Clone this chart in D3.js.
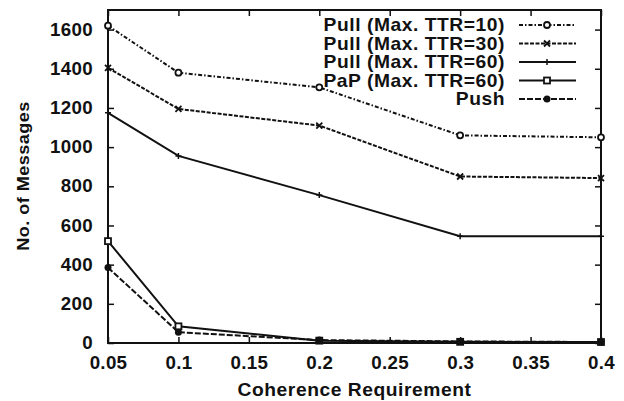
<!DOCTYPE html>
<html>
<head>
<meta charset="utf-8">
<script src="https://cdn.jsdelivr.net/npm/d3@7"></script>
<style>
  body { margin: 0; background: #fff; }
  svg { display: block; }
  text { font-family: "Liberation Sans", Arial, sans-serif; font-weight: bold; fill: #111; }
</style>
</head>
<body>
<svg id="chart" width="624" height="401"></svg>
<script>
// data
const coherence = [0.05, 0.1, 0.2, 0.3, 0.4];
const pull10 = [1620, 1380, 1305, 1060, 1050];
const pull30 = [1405, 1195, 1110, 850, 842];
const pull60 = [1175, 955, 755, 545, 545];
const pap60 = [520, 85, 12, 6, 5];
const push = [385, 55, 15, 8, 5];
const seriesNames = ["Pull (Max. TTR=10)", "Pull (Max. TTR=30)", "Pull (Max. TTR=60)", "PaP (Max. TTR=60)", "Push"];
const xTicks = [0.05, 0.1, 0.15, 0.2, 0.25, 0.3, 0.35, 0.4];
const yTicks = [0, 200, 400, 600, 800, 1000, 1200, 1400, 1600];

const svg = d3.select('#chart');
const plotLeft = 108, plotRight = 601, plotTop = 10, plotBottom = 343;

const x = d3.scaleLinear().domain([0.05, 0.4]).range([plotLeft, plotRight]);
const y = d3.scaleLinear().domain([0, 1700]).range([plotBottom, plotTop]);

const series = [
    { name: seriesNames[0], values: pull10, dash: "4,2,1.5,2", marker: "circle" },
    { name: seriesNames[1], values: pull30, dash: "4,1.5", marker: "cross" },
    { name: seriesNames[2], values: pull60, dash: null, marker: "plus" },
    { name: seriesNames[3], values: pap60, dash: null, marker: "square" },
    { name: seriesNames[4], values: push, dash: "6,2", marker: "dot" }
];

// the scanned lettering is a bit wider than Arial: stretch glyphs horizontally
function widen(sel, s) {
    sel.each(function () {
        const t = d3.select(this);
        const tx = +t.attr('x') || 0;
        t.attr('x', tx / s).attr('transform', 'scale(' + s + ',1)');
    });
}

// axes (ticks point inward, mirrored on top/right)
const xAxis = svg.append('g').attr('transform', 'translate(0,' + plotBottom + ')')
    .call(d3.axisBottom(x).tickValues(xTicks).tickSizeInner(-6).tickSizeOuter(0)
        .tickPadding(16).tickFormat(d3.format('')));
svg.append('g').attr('transform', 'translate(0,' + plotTop + ')')
    .call(d3.axisTop(x).tickValues(xTicks).tickSizeInner(-6).tickSizeOuter(0).tickFormat(''));
const yAxis = svg.append('g').attr('transform', 'translate(' + plotLeft + ',0)')
    .call(d3.axisLeft(y).tickValues(yTicks).tickSizeInner(-6).tickSizeOuter(0)
        .tickPadding(15).tickFormat(d3.format('d')));
svg.append('g').attr('transform', 'translate(' + plotRight + ',0)')
    .call(d3.axisRight(y).tickValues(yTicks).tickSizeInner(-6).tickSizeOuter(0).tickFormat(''));

svg.selectAll('.domain').remove();
svg.selectAll('.tick line').attr('stroke', '#111').attr('stroke-width', 1.5);
svg.selectAll('.tick text')
    .attr('font-family', null).attr('font-size', null).attr('fill', '#111')
    .style('font-size', '17.5px').style('letter-spacing', '0.3px');
xAxis.selectAll('.tick text').attr('dy', null).attr('y', 26);
widen(xAxis.selectAll('.tick text'), 1.07);
widen(yAxis.selectAll('.tick text'), 1.07);

svg.append('rect')
    .attr('x', plotLeft).attr('y', plotTop)
    .attr('width', plotRight - plotLeft).attr('height', plotBottom - plotTop)
    .attr('fill', 'none').attr('stroke', '#111').attr('stroke-width', 2);

// lines
const line = d3.line()
    .x((d, i) => x(coherence[i]))
    .y(d => y(d));

function drawMarker(g, kind, cx, cy) {
    if (kind === 'circle') {
        g.append('circle').attr('cx', cx).attr('cy', cy).attr('r', 3)
            .attr('fill', '#fff').attr('stroke', '#111').attr('stroke-width', 1.8);
    } else if (kind === 'dot') {
        g.append('circle').attr('cx', cx).attr('cy', cy).attr('r', 3.5).attr('fill', '#111');
    } else if (kind === 'square') {
        g.append('rect').attr('x', cx - 3).attr('y', cy - 3).attr('width', 6).attr('height', 6)
            .attr('fill', '#fff').attr('stroke', '#111').attr('stroke-width', 1.8);
    } else if (kind === 'cross') {
        g.append('path').attr('d', 'M' + (cx - 3) + ',' + (cy - 3) + 'L' + (cx + 3) + ',' + (cy + 3)
            + 'M' + (cx - 3) + ',' + (cy + 3) + 'L' + (cx + 3) + ',' + (cy - 3))
            .attr('stroke', '#111').attr('stroke-width', 1.8);
    } else if (kind === 'plus') {
        g.append('path').attr('d', 'M' + (cx - 3) + ',' + cy + 'L' + (cx + 3) + ',' + cy
            + 'M' + cx + ',' + (cy - 3) + 'L' + cx + ',' + (cy + 3))
            .attr('stroke', '#111').attr('stroke-width', 1.5);
    }
}

const plot = svg.append('g');
series.forEach(function (s) {
    plot.append('path')
        .datum(s.values)
        .attr('d', line)
        .attr('fill', 'none')
        .attr('stroke', '#111')
        .attr('stroke-width', 2)
        .attr('stroke-dasharray', s.dash);
    s.values.forEach(function (v, i) {
        drawMarker(plot, s.marker, x(coherence[i]), y(v));
    });
});

// legend
const legend = svg.append('g');
series.forEach(function (s, i) {
    const ly = 25 + i * 18.5;
    legend.append('text')
        .attr('x', 505).attr('y', ly).attr('dy', '0.36em')
        .attr('text-anchor', 'end')
        .style('font-size', '17.5px')
        .style('letter-spacing', '0.5px')
        .text(s.name)
        .call(widen, 1.1);
    legend.append('line')
        .attr('x1', 519).attr('x2', 576).attr('y1', ly).attr('y2', ly)
        .attr('stroke', '#111').attr('stroke-width', 2)
        .attr('stroke-dasharray', s.dash);
    drawMarker(legend, s.marker, 547, ly);
});

// axis titles
svg.append('text')
    .attr('x', (plotLeft + plotRight) / 2).attr('y', 396)
    .attr('text-anchor', 'middle')
    .style('font-size', '17.5px')
    .style('letter-spacing', '0.5px')
    .text('Coherence Requirement')
    .call(widen, 1.1);

svg.append('g')
    .attr('transform', 'translate(29,176) rotate(-90)')
    .append('text')
    .attr('text-anchor', 'middle')
    .style('font-size', '16.5px')
    .style('letter-spacing', '0.4px')
    .text('No. of Messages')
    .call(widen, 1.1);
</script>
</body>
</html>
